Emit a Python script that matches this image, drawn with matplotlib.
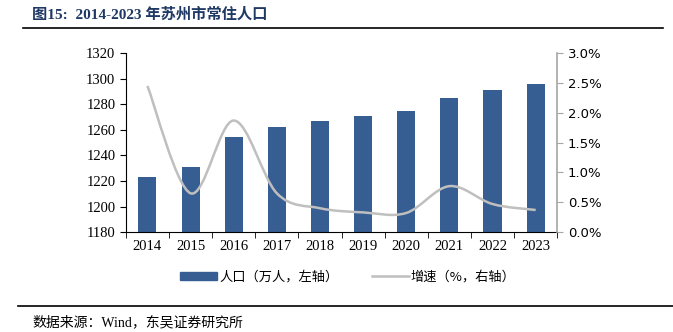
import numpy as np
import matplotlib.pyplot as plt
from matplotlib.path import Path
from matplotlib.patches import PathPatch
from matplotlib.lines import Line2D
from matplotlib.patches import Patch
from matplotlib.ticker import FuncFormatter

plt.rcParams['font.family'] = ['Noto Sans CJK SC', 'DejaVu Sans']

years = ['2014', '2015', '2016', '2017', '2018', '2019', '2020', '2021', '2022', '2023']
population = [1223, 1231, 1254, 1262, 1267, 1271, 1275, 1285, 1291, 1296]
growth = [2.45, 0.65, 1.87, 0.65, 0.40, 0.33, 0.32, 0.77, 0.47, 0.37]

BAR = '#375E92'
LINE = '#BFBFBF'
SERIF = 'Liberation Serif'


def smooth_path(xs, ys):
    # Catmull-Rom style bezier, like Excel's smoothed line
    verts = [(xs[0], ys[0])]
    codes = [Path.MOVETO]
    n = len(xs)
    for i in range(n - 1):
        p0 = (xs[max(i - 1, 0)], ys[max(i - 1, 0)])
        p1 = (xs[i], ys[i])
        p2 = (xs[i + 1], ys[i + 1])
        p3 = (xs[min(i + 2, n - 1)], ys[min(i + 2, n - 1)])
        c1 = (p1[0] + (p2[0] - p0[0]) / 6, p1[1] + (p2[1] - p0[1]) / 6)
        c2 = (p2[0] - (p3[0] - p1[0]) / 6, p2[1] - (p3[1] - p1[1]) / 6)
        verts += [c1, c2, p2]
        codes += [Path.CURVE4] * 3
    return Path(verts, codes)


fig = plt.figure(figsize=(6.73, 3.32), dpi=100)
ax = fig.add_axes([0.187, 0.301, 0.641, 0.539])
x = np.arange(len(years))
ax.bar(x, population, width=0.42, color=BAR, zorder=2)
ax.set_xlim(-0.5, len(years) - 0.5)
ax.set_ylim(1180, 1320)
ax.set_yticks(np.arange(1180, 1321, 20))
ax.set_xticks(x)
ax.set_xticklabels(years)
ax.set_xticks(np.arange(-0.5, len(years), 1), minor=True)
ax.tick_params(axis='x', which='major', length=0, pad=6)
ax.tick_params(axis='x', which='minor', length=4, direction='out')
ax.tick_params(axis='y', length=4, direction='out')
for lab in ax.get_xticklabels() + ax.get_yticklabels():
    lab.set_fontfamily(SERIF)
    lab.set_fontsize(10.5)
ax.spines['top'].set_visible(False)
ax.spines['right'].set_visible(False)

ax2 = ax.twinx()
ax2.set_ylim(0, 3.0)
ax2.set_yticks(np.arange(0, 3.01, 0.5))
ax2.yaxis.set_major_formatter(FuncFormatter(lambda v, p: f'{v:.1f}%'))
ax2.tick_params(axis='y', length=4, direction='out', color='#A6A6A6', labelsize=9.5)
for lab in ax2.get_yticklabels():
    lab.set_fontfamily('DejaVu Sans')
for s in ['top', 'left', 'bottom']:
    ax2.spines[s].set_visible(False)
ax2.spines['right'].set_color('#A6A6A6')
ax2.spines['right'].set_linewidth(1.2)
ax2.add_patch(PathPatch(smooth_path(x, growth), facecolor='none', edgecolor=LINE, lw=1.8, zorder=3))

fig.text(0.047, 0.955, '图15:  2014-2023 年苏州市常住人口', fontsize=11, fontweight='bold',
         color='#1F3864', va='center', family=[SERIF, 'Noto Sans CJK SC'])
fig.add_artist(Line2D([0.034, 0.985], [0.915, 0.915], color='black', lw=1.2))
fig.add_artist(Line2D([0.027, 1.0], [0.078, 0.078], color='black', lw=1.2))
fig.text(0.048, 0.03, '数据来源：Wind，东吴证券研究所', fontsize=10, va='center',
         family=[SERIF, 'Noto Sans CJK SC'])

handles = [Patch(color=BAR), Line2D([], [], color=LINE, lw=1.8)]
fig.legend(handles, ['人口（万人，左轴）', '增速（%，右轴）'], loc='center',
           bbox_to_anchor=(0.517, 0.165), ncol=2, frameon=False, fontsize=9.5,
           handlelength=2.8, handleheight=0.6, columnspacing=2.5, handletextpad=0.15)

fig.savefig('out.png', dpi=100)
